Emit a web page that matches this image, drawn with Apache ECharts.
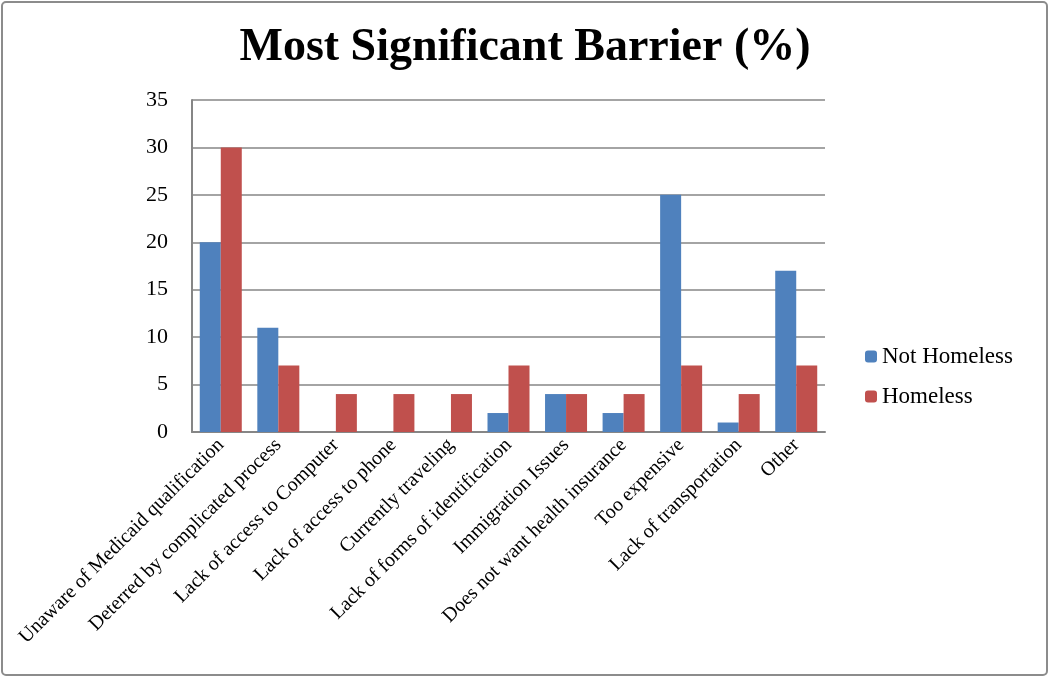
<!DOCTYPE html>
<html>
<head>
<meta charset="utf-8">
<script src="https://cdn.jsdelivr.net/npm/echarts@6/dist/echarts.min.js"></script>
<style>
  html, body { margin: 0; padding: 0; background: #fff; }
  #main { width: 1050px; height: 678px; }
</style>
</head>
<body>
<div id="main"></div>
<script>
var categories = [
    'Unaware of Medicaid qualification',
    'Deterred by complicated process',
    'Lack of access to Computer',
    'Lack of access to phone',
    'Currently traveling',
    'Lack of forms of identification',
    'Immigration Issues',
    'Does not want health insurance',
    'Too expensive',
    'Lack of transportation',
    'Other'
];
var notHomeless = [20, 11, 0, 0, 0, 2, 4, 2, 25, 1, 17];
var homeless = [30, 7, 4, 4, 4, 7, 4, 4, 7, 4, 7];

var serif = '"Liberation Serif", "DejaVu Serif", serif';
var myChart = echarts.init(document.getElementById('main'));
var option = {
    backgroundColor: '#fff',
    animation: false,
    title: {
        text: 'Most Significant Barrier (%)',
        left: 'center',
        top: 20,
        textStyle: {
            fontFamily: serif,
            fontWeight: 'bold',
            fontSize: 46,
            color: '#000'
        }
    },
    graphic: [{
        type: 'rect',
        shape: {x: 2, y: 2, width: 1045, height: 673, r: 4},
        style: {fill: 'none', stroke: '#8c8c8c', lineWidth: 2}
    }],
    legend: {
        orient: 'vertical',
        left: 860,
        top: 340,
        itemWidth: 12,
        itemHeight: 12,
        itemGap: 17,
        textStyle: {fontFamily: serif, fontSize: 23, color: '#000'},
        data: ['Not Homeless', 'Homeless']
    },
    grid: {
        left: 192,
        right: 225,
        top: 100,
        bottom: 246
    },
    xAxis: {
        type: 'category',
        data: categories,
        axisLine: {lineStyle: {color: '#868686', width: 2}},
        axisTick: {show: false},
        axisLabel: {
            rotate: 45,
            interval: 0,
            margin: 10,
            fontFamily: serif,
            fontSize: 20,
            color: '#000'
        }
    },
    yAxis: {
        type: 'value',
        min: 0,
        max: 35,
        interval: 5,
        axisLine: {show: true, lineStyle: {color: '#868686', width: 2}},
        axisTick: {show: false},
        splitLine: {lineStyle: {color: '#868686', width: 1.5}},
        axisLabel: {
            margin: 24,
            fontFamily: serif,
            fontSize: 22,
            color: '#000'
        }
    },
    series: [
        {
            name: 'Not Homeless',
            type: 'bar',
            data: notHomeless,
            barGap: '0%',
            barCategoryGap: '27%',
            itemStyle: {color: '#4F81BD'}
        },
        {
            name: 'Homeless',
            type: 'bar',
            data: homeless,
            itemStyle: {color: '#C0504D'}
        }
    ]
};
myChart.setOption(option);
window.onresize = myChart.resize;
</script>
</body>
</html>
